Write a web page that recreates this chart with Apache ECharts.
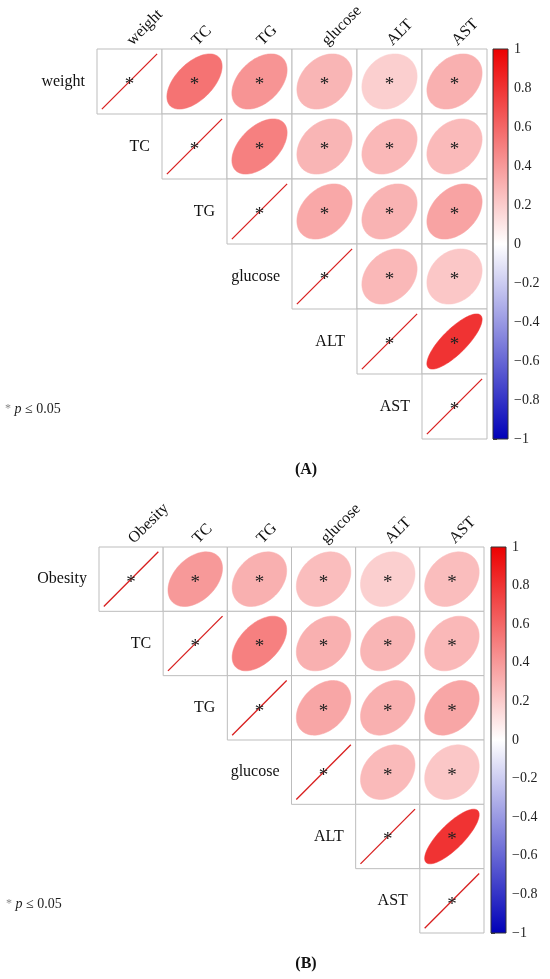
<!DOCTYPE html>
<html>
<head>
<meta charset="utf-8">
<script src="https://cdn.jsdelivr.net/npm/echarts@6/dist/echarts.min.js"></script>
<style>
  html, body { margin: 0; padding: 0; background: #fff; }
  #chartmain { width: 550px; height: 979px; }
</style>
</head>
<body>
<div id="chartmain"></div>
<script>
// variable names of the two panels
var varsA = ['weight', 'TC', 'TG', 'glucose', 'ALT', 'AST'];
var varsB = ['Obesity', 'TC', 'TG', 'glucose', 'ALT', 'AST'];

// upper triangle, row i holds r for columns i..5
var corrA = [
	[1, 0.55, 0.42, 0.29, 0.19, 0.31],
	[1, 0.50, 0.29, 0.28, 0.27],
	[1, 0.34, 0.30, 0.36],
	[1, 0.28, 0.22],
	[1, 0.80],
	[1]
];
var corrB = [
	[1, 0.40, 0.31, 0.26, 0.19, 0.26],
	[1, 0.50, 0.31, 0.29, 0.28],
	[1, 0.35, 0.31, 0.35],
	[1, 0.27, 0.22],
	[1, 0.80],
	[1]
];

// colour legend
var legendMin = -1;
var legendMax = 1;
var legendStep = 0.2;
var legendColors = ['#0000B8', '#FFFFFF', '#EC0000'];

var panelTags = ['(A)', '(B)'];
var noteText = '{s|*} {i|p} \u2264 0.05';

var serif = 'Liberation Serif, Times New Roman, serif';

function toCells(corr) {
	var out = [];
	for (var i = 0; i < corr.length; i++) {
		for (var k = 0; k < corr[i].length; k++) {
			out.push([i + k, i, corr[i][k]]);
		}
	}
	return out;
}

function makeRender(names) {
	return function(params, api) {
		var col = api.value(0), row = api.value(1), v = api.value(2);
		var p = api.coord([col, row]);
		var s = api.size([1, 1]);
		var w = s[0], h = s[1];
		var color = api.visual('color');
		var kids = [{
			type : 'rect',
			shape : { x : p[0] - w / 2, y : p[1] - h / 2, width : w, height : h },
			style : { fill : '#fff', stroke : '#BDBDBD', lineWidth : 1 }
		}];
		if (v >= 0.999) {
			kids.push({
				type : 'line',
				shape : { x1 : p[0] - 0.425 * w, y1 : p[1] + 0.425 * h, x2 : p[0] + 0.425 * w, y2 : p[1] - 0.425 * h },
				style : { stroke : '#D81E1E', lineWidth : 1.3 }
			});
			// row label to the left of the diagonal cell
			kids.push({
				type : 'text',
				style : {
					text : names[row], x : p[0] - w / 2 - 12, y : p[1],
					align : 'right', verticalAlign : 'middle',
					font : '16px ' + serif, fill : '#111'
				}
			});
		} else {
			// corrplot style ellipse
			var d = Math.acos(v);
			var pts = [];
			for (var k = 0; k < 100; k++) {
				var t = 2 * Math.PI * k / 99;
				pts.push([p[0] + 0.85 * w * Math.cos(t + d / 2) / 2,
						p[1] - 0.85 * h * Math.cos(t - d / 2) / 2]);
			}
			kids.push({
				type : 'polygon',
				shape : { points : pts },
				style : { fill : color, stroke : color, lineWidth : 0.5 }
			});
		}
		kids.push({
			type : 'text',
			style : {
				text : '*', x : p[0], y : p[1] + 4,
				align : 'center', verticalAlign : 'middle',
				font : '19px ' + serif, fill : '#222'
			}
		});
		return { type : 'group', children : kids };
	};
}

function renderBar(params, api) {
	var top = api.coord([0, legendMax]);
	var bot = api.coord([1, legendMin]);
	var stops = [];
	for (var i = 0; i < legendColors.length; i++) {
		stops.push({ offset : i / (legendColors.length - 1), color : legendColors[legendColors.length - 1 - i] });
	}
	return {
		type : 'rect',
		shape : { x : top[0], y : top[1], width : bot[0] - top[0], height : bot[1] - top[1] },
		style : {
			fill : new echarts.graphic.LinearGradient(0, 0, 0, 1, stops),
			stroke : '#333', lineWidth : 1
		}
	};
}

function fmtTick(v) {
	var n = Math.round(v * 10) / 10;
	return n < 0 ? '\u2212' + Math.abs(n) : String(n);
}

function matrixX(idx, names) {
	return {
		type : 'category', gridIndex : idx, data : names, position : 'top',
		axisLine : { show : false }, axisTick : { show : false }, splitLine : { show : false },
		axisLabel : { interval : 0, rotate : -45, margin : 6, fontFamily : serif, fontSize : 16, color : '#111' }
	};
}
function matrixY(idx, names) {
	return { type : 'category', gridIndex : idx, data : names, inverse : true, show : false };
}
function barX(idx) {
	return { type : 'value', gridIndex : idx, min : 0, max : 1, show : false };
}
function barY(idx) {
	return {
		type : 'value', gridIndex : idx, min : legendMin, max : legendMax, interval : legendStep,
		position : 'right', offset : 3,
		axisLine : { show : false }, splitLine : { show : false },
		axisTick : { show : true, length : 4, lineStyle : { color : '#444' } },
		axisLabel : { margin : 3, fontFamily : serif, fontSize : 14, color : '#222', formatter : fmtTick }
	};
}

var noteRich = {
	s : { fontSize : 12, fill : '#888', fontFamily : serif },
	i : { fontStyle : 'italic', fontSize : 14, fontFamily : serif }
};

var option = {
	backgroundColor : '#fff',
	animation : false,
	grid : [
		{ left : 97, top : 49, width : 390, height : 390 },
		{ left : 493, top : 49, width : 15, height : 390 },
		{ left : 99, top : 547, width : 385, height : 386 },
		{ left : 491, top : 547, width : 15, height : 386 }
	],
	xAxis : [ matrixX(0, varsA), barX(1), matrixX(2, varsB), barX(3) ],
	yAxis : [ matrixY(0, varsA), barY(1), matrixY(2, varsB), barY(3) ],
	visualMap : {
		show : false, type : 'continuous', seriesIndex : [0, 1], dimension : 2,
		min : legendMin, max : legendMax, inRange : { color : legendColors }
	},
	series : [
		{ type : 'custom', xAxisIndex : 0, yAxisIndex : 0, data : toCells(corrA), renderItem : makeRender(varsA) },
		{ type : 'custom', xAxisIndex : 2, yAxisIndex : 2, data : toCells(corrB), renderItem : makeRender(varsB) },
		{ type : 'custom', xAxisIndex : 1, yAxisIndex : 1, data : [[0, legendMax]], renderItem : renderBar },
		{ type : 'custom', xAxisIndex : 3, yAxisIndex : 3, data : [[0, legendMax]], renderItem : renderBar }
	],
	graphic : [
		{ type : 'text', left : 5, top : 402, style : { text : noteText, font : '14px ' + serif, fill : '#222', rich : noteRich } },
		{ type : 'text', left : 6, top : 897, style : { text : noteText, font : '14px ' + serif, fill : '#222', rich : noteRich } },
		{ type : 'text', x : 306, y : 470, style : { text : panelTags[0], x : 0, y : 0, align : 'center', verticalAlign : 'middle', font : 'bold 16px ' + serif, fill : '#111' } },
		{ type : 'text', x : 306, y : 964, style : { text : panelTags[1], x : 0, y : 0, align : 'center', verticalAlign : 'middle', font : 'bold 16px ' + serif, fill : '#111' } }
	]
};

var myChart = echarts.init(document.getElementById('chartmain'));
myChart.setOption(option);
</script>
</body>
</html>
